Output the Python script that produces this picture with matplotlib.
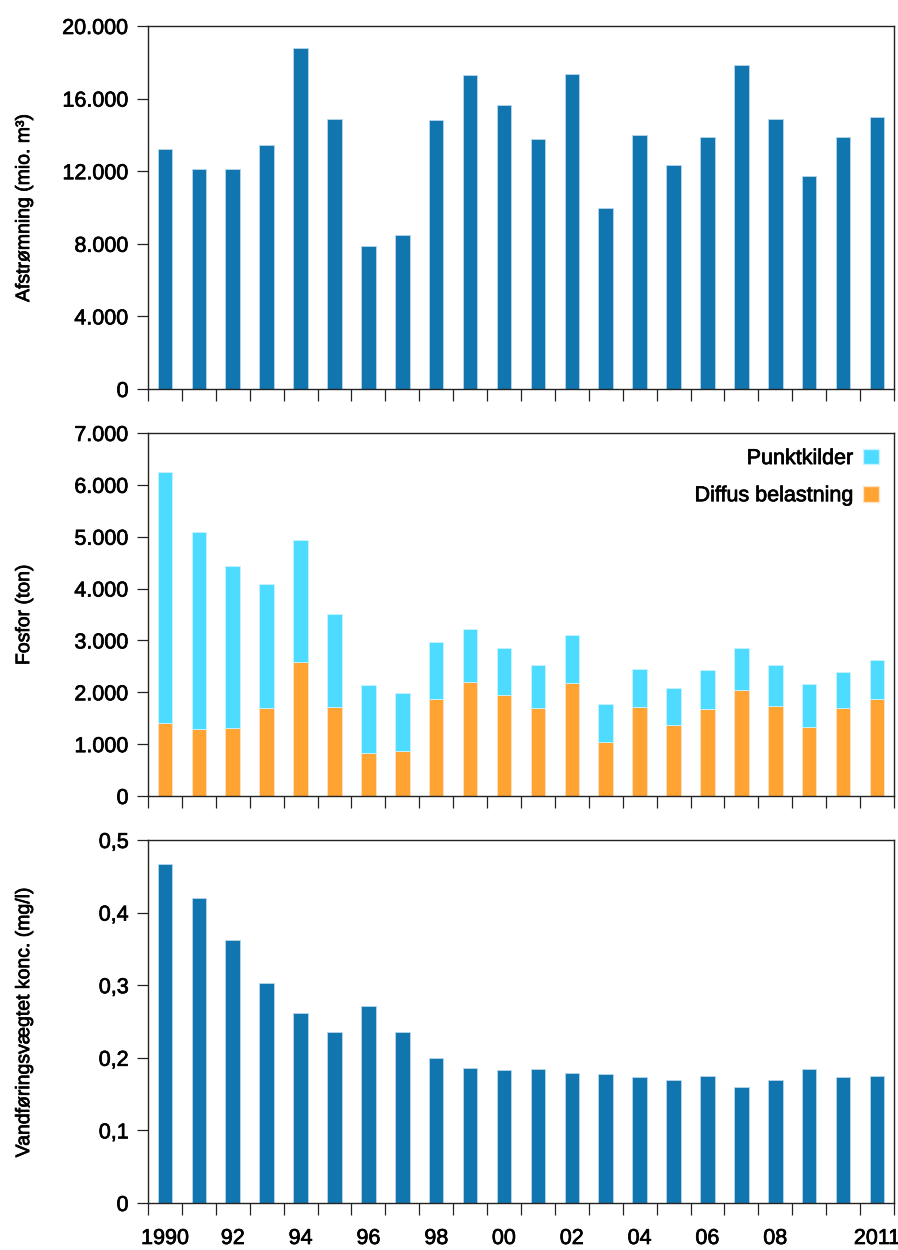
import numpy as np
import matplotlib
matplotlib.use("Agg")
import matplotlib.pyplot as plt
import matplotlib.patheffects as pe
from matplotlib.patches import Patch
from matplotlib.ticker import FuncFormatter

plt.rcParams['font.family'] = ['Liberation Sans', 'DejaVu Sans']

years = list(range(1990, 2012))
year_labels = {1990: '1990', 1992: '92', 1994: '94', 1996: '96', 1998: '98',
               2000: '00', 2002: '02', 2004: '04', 2006: '06', 2008: '08',
               2011: '2011'}

# afstroemning, mio. m3
runoff = [13250, 12100, 12100, 13450, 18800, 14900, 7900, 8500, 14800, 17300,
          15650, 13800, 17350, 9970, 13980, 12330, 13890, 17840, 14900, 11740,
          13900, 15000]

# fosfor, ton
diffuse = [1400, 1300, 1320, 1690, 2590, 1710, 830, 875, 1870, 2190,
           1940, 1700, 2170, 1040, 1720, 1360, 1670, 2050, 1740, 1340,
           1690, 1880]
total_p = [6250, 5090, 4430, 4080, 4940, 3510, 2140, 1990, 2970, 3220,
           2860, 2530, 3110, 1770, 2440, 2090, 2430, 2860, 2520, 2160,
           2390, 2620]
point = [t - d for t, d in zip(total_p, diffuse)]

# vandfoeringsvaegtet koncentration, mg/l
conc = [0.467, 0.420, 0.362, 0.303, 0.262, 0.235, 0.272, 0.236, 0.200, 0.186,
        0.183, 0.184, 0.179, 0.178, 0.174, 0.170, 0.175, 0.160, 0.170, 0.184,
        0.173, 0.175]

blue = '#1176b0'
cyan = '#4ddbff'
orange = '#ffa333'
fs_tick = 15.5
fs_lab = 14
# slightly heavier text strokes
thick = [pe.withStroke(linewidth=0.5, foreground='black')]

fig = plt.figure(figsize=(8.98, 12.5), dpi=100)
left, width, height = 0.1648, 0.8307, 0.2904
ax1 = fig.add_axes([left, 0.6888, width, height])
ax2 = fig.add_axes([left, 0.3632, width, height])
ax3 = fig.add_axes([left, 0.0376, width, height])

x = np.arange(len(years))
bw = 0.43

ax1.bar(x, runoff, bw, color=blue, edgecolor='#b9d7ea', linewidth=0.6)
ax2.bar(x, diffuse, bw, color=orange, edgecolor='#ffe3c2', linewidth=0.6)
ax2.bar(x, point, bw, bottom=diffuse, color=cyan, edgecolor='#c8f3ff', linewidth=0.6)
ax3.bar(x, conc, bw, color=blue, edgecolor='#b9d7ea', linewidth=0.6)


def thousands(v, pos):
    return '{:,.0f}'.format(v).replace(',', '.')


def comma_dec(v, pos):
    if abs(v) < 1e-9:
        return '0'
    return '{:.1f}'.format(v).replace('.', ',')


ax1.set_ylim(0, 20000)
ax1.set_yticks(np.arange(0, 20001, 4000))
ax1.yaxis.set_major_formatter(FuncFormatter(thousands))
ax1.set_ylabel('Afstrømning (mio. m³)', fontsize=fs_lab)

ax2.set_ylim(0, 7000)
ax2.set_yticks(np.arange(0, 7001, 1000))
ax2.yaxis.set_major_formatter(FuncFormatter(thousands))
ax2.set_ylabel('Fosfor (ton)', fontsize=fs_lab)

ax3.set_ylim(0, 0.5)
ax3.set_yticks(np.arange(0, 0.51, 0.1))
ax3.yaxis.set_major_formatter(FuncFormatter(comma_dec))
ax3.set_ylabel('Vandføringsvægtet konc. (mg/l)', fontsize=fs_lab)

for ax in (ax1, ax2, ax3):
    ax.set_xlim(-0.5, len(years) - 0.5)
    ax.set_xticks(np.arange(-0.5, len(years), 1.0))
    ax.set_xticklabels([])
    ax.tick_params(axis='x', which='major', direction='out', length=8.6, width=0.9, color='#222222')
    ax.tick_params(axis='y', direction='out', length=7.9, width=0.9, pad=6,
                   labelsize=fs_tick, color='#222222')
    for s in ax.spines.values():
        s.set_linewidth(1.0)
        s.set_color('#222222')
    ax.yaxis.set_label_coords(-0.154, 0.5)
    ax.yaxis.label.set_path_effects(thick)
    for t in ax.get_yticklabels():
        t.set_path_effects(thick)

lab_pos = [years.index(y) for y in year_labels]
ax3.set_xticks(lab_pos, minor=True)
ax3.set_xticklabels(list(year_labels.values()), minor=True)
ax3.tick_params(axis='x', which='minor', length=0, pad=18, labelsize=fs_tick)
for t in ax3.get_xticklabels(minor=True):
    t.set_path_effects(thick)

handles = [Patch(facecolor=cyan, edgecolor='#c8f3ff', label='Punktkilder'),
           Patch(facecolor=orange, edgecolor='#ffe3c2', label='Diffus belastning')]
leg = ax2.legend(handles=handles, loc='upper right', frameon=False, fontsize=fs_tick,
                 markerfirst=False, handlelength=0.75, handleheight=0.75,
                 handletextpad=0.45, labelspacing=0.75, borderaxespad=0.3)
for t in leg.get_texts():
    t.set_path_effects(thick)

fig.savefig('out.png', dpi=100)
